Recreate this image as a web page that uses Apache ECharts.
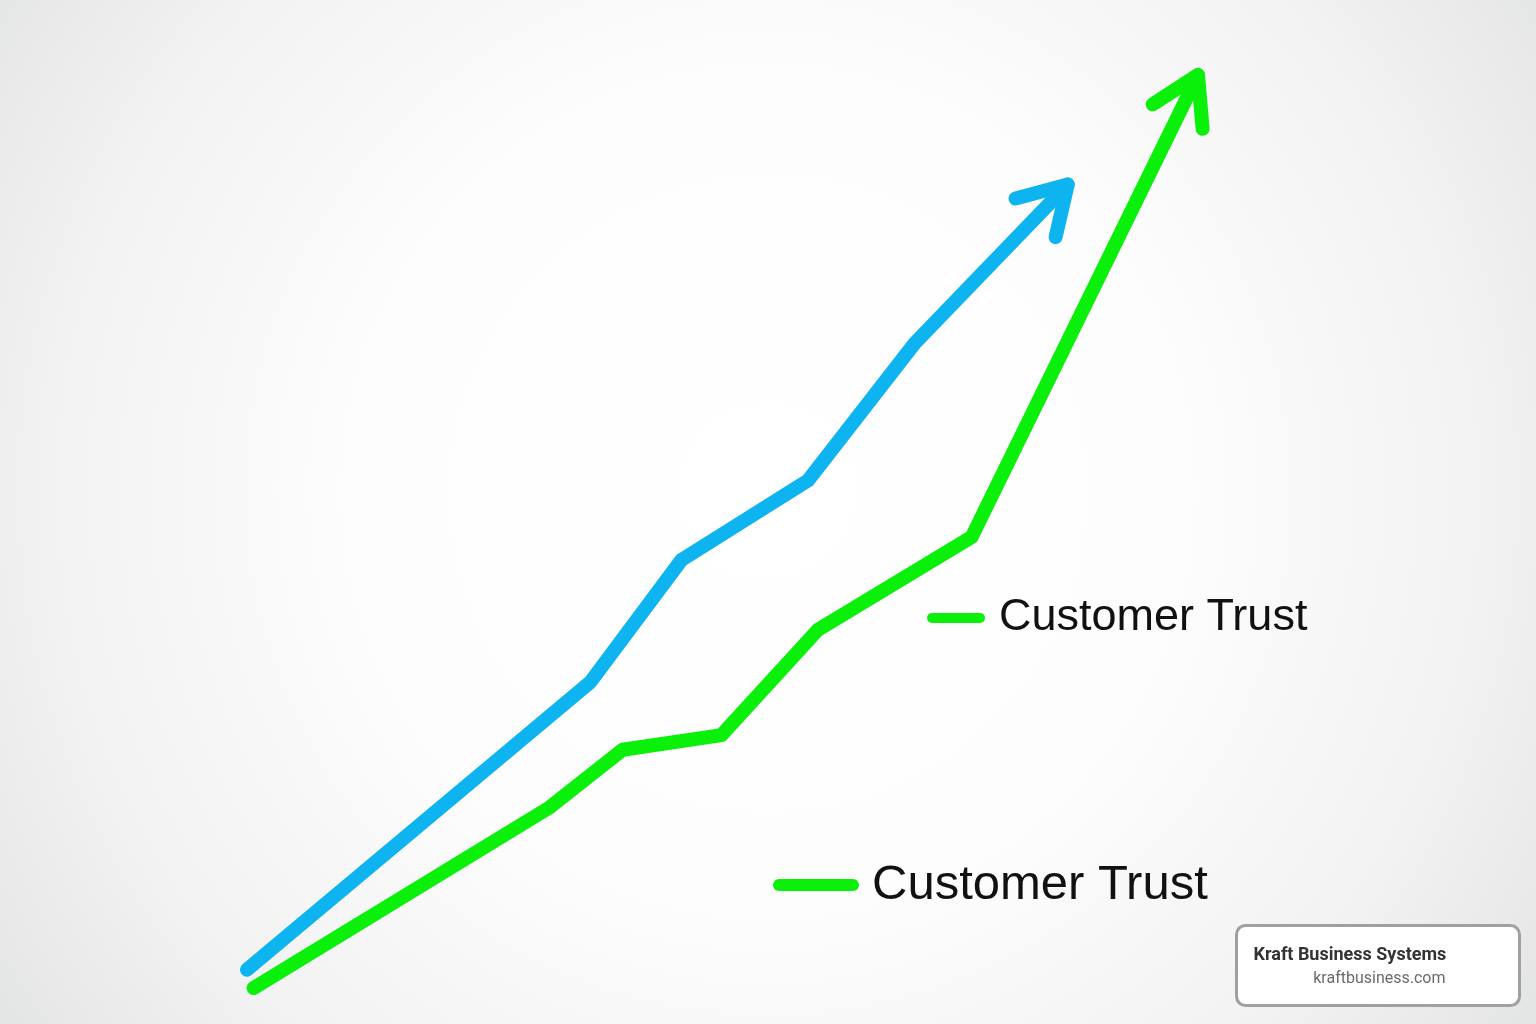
<!DOCTYPE html>
<html>
<head>
<meta charset="utf-8">
<script src="https://cdn.jsdelivr.net/npm/echarts@6/dist/echarts.min.js"></script>
<style>
html,body{margin:0;padding:0;width:100%;height:100%;overflow:hidden;}
#chart{width:1536px;height:1024px;}
</style>
</head>
<body>
<div id="chart"></div>
<script>
// Data (x: progress 0-100, y: level 0-100)
const blueX  = [0,   36.1, 45.7, 59.0, 70.2, 86.3];
const blueY  = [2.0, 33.5, 46.9, 55.6, 70.6, 88.0];
const greenX = [0.7, 31.7, 39.5, 49.9, 60.0, 76.2, 100];
const greenY = [0,   19.7, 26.1, 27.7, 39.2, 49.4, 100];
const seriesNames = ['Growth', 'Customer Trust'];
const legendLabel = 'Customer Trust';
const brandTitle = 'Kraft Business Systems';
const brandUrl = 'kraftbusiness.com';

const BLUE = '#0db4f0';
const GREEN = '#0af00a';

function zip(xs, ys){ return xs.map((x,i)=>[x, ys[i]]); }
const blueData = zip(blueX, blueY);
const greenData = zip(greenX, greenY);

function arrowData(d){
  const n = d.length;
  return [[d[n-2][0], d[n-2][1], d[n-1][0], d[n-1][1]]];
}

function arrowRender(color){
  return function(params, api){
    const p0 = api.coord([api.value(0), api.value(1)]);
    const p1 = api.coord([api.value(2), api.value(3)]);
    const dx = p0[0]-p1[0], dy = p0[1]-p1[1];
    const len = Math.sqrt(dx*dx+dy*dy);
    const ux = dx/len, uy = dy/len;
    const L = 54, a = 31*Math.PI/180;
    const c = Math.cos(a), s = Math.sin(a);
    const w1 = [p1[0] + L*(ux*c - uy*s), p1[1] + L*(ux*s + uy*c)];
    const w2 = [p1[0] + L*(ux*c + uy*s), p1[1] + L*(-ux*s + uy*c)];
    return {
      type: 'polyline',
      shape: { points: [w1, p1, w2] },
      style: { stroke: color, lineWidth: 14, fill: null, lineCap: 'round', lineJoin: 'round' }
    };
  };
}

const chart = echarts.init(document.getElementById('chart'));
chart.setOption({
  animation: false,
  backgroundColor: {
    type: 'radial', x: 0.5, y: 0.48, r: 1.0,
    colorStops: [
      {offset: 0, color: '#ffffff'},
      {offset: 0.4, color: '#fdfdfd'},
      {offset: 0.7, color: '#f2f2f2'},
      {offset: 1, color: '#dedfe0'}
    ]
  },
  grid: { left: 247, right: 338, top: 75, bottom: 36 },
  xAxis: { type: 'value', min: 0, max: 100, show: false },
  yAxis: { type: 'value', min: 0, max: 100, show: false },
  legend: [
    {
      data: [legendLabel], selectedMode: false, padding: 0,
      left: 927, top: 593,
      icon: 'path://M5,0 L53,0 A5,5 0 0 1 53,10 L5,10 A5,5 0 0 1 5,0 Z',
      itemWidth: 58, itemHeight: 11,
      itemStyle: { color: GREEN },
      textStyle: { fontSize: 45, color: '#111', fontFamily: 'Liberation Sans', lineHeight: 50, padding: [0,0,0,9] }
    },
    {
      data: [legendLabel], selectedMode: false, padding: 0,
      left: 773, top: 858,
      icon: 'path://M6,0 L80,0 A6,6 0 0 1 80,12 L6,12 A6,6 0 0 1 6,0 Z',
      itemWidth: 86, itemHeight: 13,
      itemStyle: { color: GREEN },
      textStyle: { fontSize: 49, color: '#111', fontFamily: 'Liberation Sans', lineHeight: 54, padding: [0,0,0,8] }
    }
  ],
  series: [
    {
      name: seriesNames[0], type: 'line', data: blueData,
      symbol: 'none', silent: true,
      lineStyle: { color: BLUE, width: 14, cap: 'round', join: 'round' },
      itemStyle: { color: BLUE }
    },
    {
      name: seriesNames[1], type: 'line', data: greenData,
      symbol: 'none', silent: true,
      lineStyle: { color: GREEN, width: 14, cap: 'round', join: 'round' },
      itemStyle: { color: GREEN }
    },
    {
      type: 'custom', name: 'blueArrow', data: arrowData(blueData),
      renderItem: arrowRender(BLUE), silent: true, z: 3
    },
    {
      type: 'custom', name: 'greenArrow', data: arrowData(greenData),
      renderItem: arrowRender(GREEN), silent: true, z: 3
    }
  ],
  graphic: [
    {
      type: 'group', right: 15, bottom: 17,
      children: [
        { type: 'rect', shape: { x: 0, y: 0, width: 283, height: 80, r: 9 },
          style: { fill: '#ffffff', stroke: '#a0a0a0', lineWidth: 3 } },
        { type: 'text', x: 17, y: 30,
          style: { text: brandTitle, fill: '#333333', font: 'bold 18px Roboto', verticalAlign: 'middle' } },
        { type: 'text', x: 209, y: 53,
          style: { text: brandUrl, fill: '#6a6a6a', font: '16px Roboto', align: 'right', verticalAlign: 'middle' } }
      ]
    }
  ]
});
</script>
</body>
</html>
